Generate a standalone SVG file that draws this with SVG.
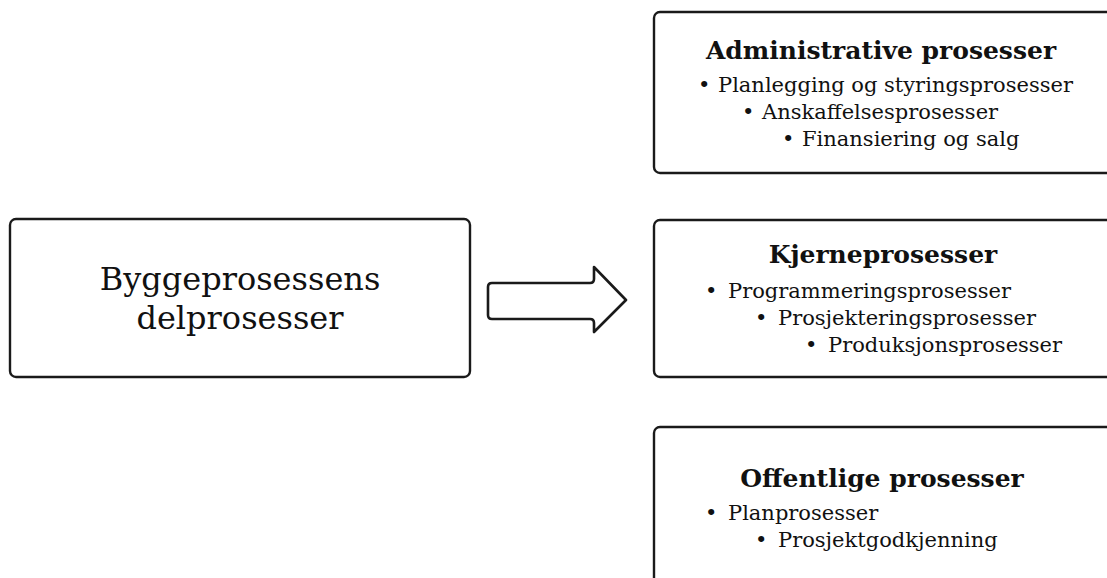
<svg xmlns="http://www.w3.org/2000/svg" width="1107" height="578" viewBox="0 0 1107 578">
  <style>
    .box { fill: #ffffff; stroke: #1a1a1a; stroke-width: 2.4; }
    .main { font-family: 'DejaVu Serif', 'Liberation Serif', serif; font-size: 32px; fill: #111; text-anchor: middle; }
    .title { font-family: 'DejaVu Serif', 'Liberation Serif', serif; font-size: 25px; font-weight: bold; fill: #111; text-anchor: middle; }
    .item { font-family: 'DejaVu Serif', 'Liberation Serif', serif; font-size: 21px; fill: #111; }
    .arrow { fill: #ffffff; stroke: #1a1a1a; stroke-width: 2.6; stroke-linejoin: round; }
  </style>
  <rect width="1107" height="578" fill="#ffffff"/>

  <g id="byggeprosessens-delprosesser">
    <rect class="box" x="10" y="219" width="460" height="158" rx="6"/>
    <text class="main" x="240" y="290">Byggeprosessens</text>
    <text class="main" x="240" y="329">delprosesser</text>
  </g>

  <g id="connectors">
    <path class="arrow" d="M492,283 L590,283 Q594,283 594,279 L594,267 L626,300 L594,332 L594,323 Q594,319 590,319 L492,319 Q488,319 488,315 L488,287 Q488,283 492,283 Z"/>
  </g>

  <g id="administrative-prosesser">
    <rect class="box" x="654" y="12" width="470" height="161" rx="6"/>
    <text class="title" x="881" y="59">Administrative prosesser</text>
    <text class="item" y="92"><tspan x="698">•</tspan><tspan x="718">Planlegging og styringsprosesser</tspan></text>
    <text class="item" y="119"><tspan x="742">•</tspan><tspan x="762">Anskaffelsesprosesser</tspan></text>
    <text class="item" y="146"><tspan x="782">•</tspan><tspan x="802">Finansiering og salg</tspan></text>
  </g>

  <g id="kjerneprosesser">
    <rect class="box" x="654" y="220" width="470" height="157" rx="6"/>
    <text class="title" x="883" y="263">Kjerneprosesser</text>
    <text class="item" y="298"><tspan x="705">•</tspan><tspan x="728">Programmeringsprosesser</tspan></text>
    <text class="item" y="325"><tspan x="755">•</tspan><tspan x="778">Prosjekteringsprosesser</tspan></text>
    <text class="item" y="352"><tspan x="805">•</tspan><tspan x="828">Produksjonsprosesser</tspan></text>
  </g>

  <g id="offentlige-prosesser">
    <rect class="box" x="654" y="427" width="470" height="180" rx="6"/>
    <text class="title" x="882" y="487">Offentlige prosesser</text>
    <text class="item" y="520"><tspan x="705">•</tspan><tspan x="728">Planprosesser</tspan></text>
    <text class="item" y="547"><tspan x="755">•</tspan><tspan x="778">Prosjektgodkjenning</tspan></text>
  </g>
</svg>
